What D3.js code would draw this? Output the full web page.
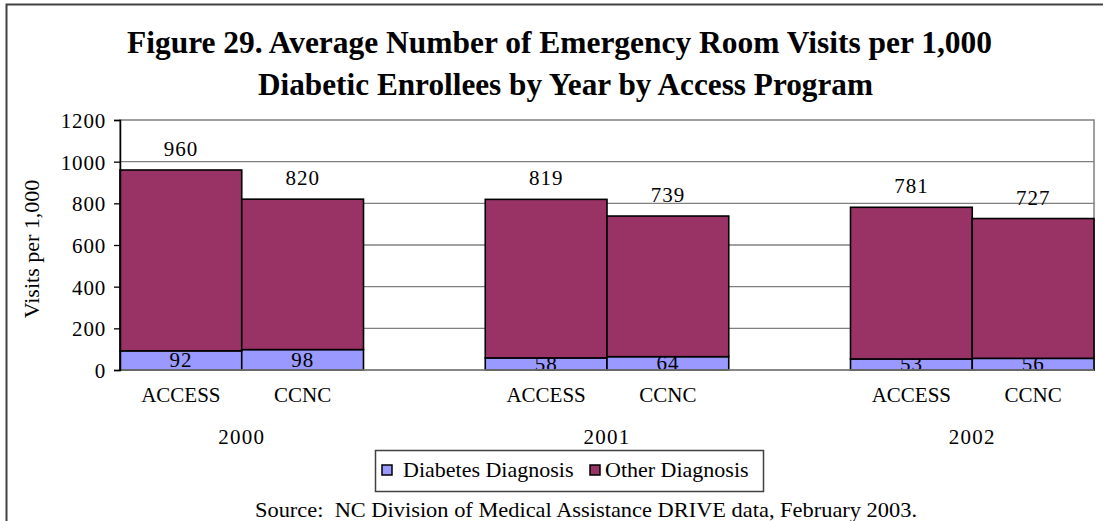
<!DOCTYPE html>
<html>
<head>
<meta charset="utf-8">
<script src="https://cdn.jsdelivr.net/npm/d3@7"></script>
<style>
  html, body { margin: 0; padding: 0; background: #fff; }
  svg { display: block; }
  svg text { font-family: "Liberation Serif", "Times New Roman", serif !important; fill: #000; }
</style>
</head>
<body>
<svg id="chart" width="1103" height="521"></svg>
<script>
// ---- data ----
const years = ["2000", "2001", "2002"];
const programs = ["ACCESS", "CCNC"];
const diabetesValues = [92, 98, 58, 64, 53, 56];     // Diabetes Diagnosis
const totalValues = [960, 820, 819, 739, 781, 727];   // total (label on top)
const yTickValues = [0, 200, 400, 600, 800, 1000, 1200];
const seriesNames = ["Diabetes Diagnosis", "Other Diagnosis"];
const titleLines = [
  "Figure 29. Average Number of Emergency Room Visits per 1,000",
  "Diabetic Enrollees by Year by Access Program"
];
const yAxisTitle = "Visits per 1,000";
const sourceText = "Source:  NC Division of Medical Assistance DRIVE data, February 2003.";

// ---- layout ----
const plot = { left: 120, right: 1094, top: 120, bottom: 370 };
const colors = { diabetes: "#9999FF", other: "#993366" };
const serif = "'Liberation Serif', 'Times New Roman', serif";

const svg = d3.select("#chart");

// outer chart border (right/bottom fall outside the window)
svg.append("rect")
  .attr("x", 6.5).attr("y", 4.5)
  .attr("width", 1200).attr("height", 600)
  .attr("fill", "none").attr("stroke", "#404040").attr("stroke-width", 2);

// rows: one per year x program
const rows = [];
years.forEach((yr, yi) => {
  programs.forEach((pg, pi) => {
    const i = yi * programs.length + pi;
    rows.push({
      year: yr, program: pg, slot: yi * 3 + pi,
      diabetes: diabetesValues[i],
      other: totalValues[i] - diabetesValues[i],
      total: totalValues[i]
    });
  });
});

// 8 slots: 2 bars per year, an empty slot between years
const x = d3.scaleBand()
  .domain(d3.range(years.length * 3 - 1))
  .range([plot.left, plot.right])
  .padding(0);

const y = d3.scaleLinear().domain([0, 1200]).range([plot.bottom, plot.top]);

// gridlines
svg.append("g").selectAll("line")
  .data(yTickValues.filter(v => v > 0 && v < 1200))
  .join("line")
  .attr("x1", plot.left).attr("x2", plot.right)
  .attr("y1", d => y(d)).attr("y2", d => y(d))
  .attr("stroke", "#808080").attr("stroke-width", 1.3);

// plot area border (gray)
svg.append("rect")
  .attr("x", plot.left).attr("y", plot.top)
  .attr("width", plot.right - plot.left).attr("height", plot.bottom - plot.top)
  .attr("fill", "none").attr("stroke", "#808080").attr("stroke-width", 1.5);

// stacked bars
const stack = d3.stack().keys(["diabetes", "other"]);
const stacked = stack(rows);

// diabetes segments
svg.append("g").selectAll("rect")
  .data(stacked[0])
  .join("rect")
  .attr("x", d => x(d.data.slot))
  .attr("width", x.bandwidth())
  .attr("y", d => y(d[1]))
  .attr("height", d => y(d[0]) - y(d[1]))
  .attr("fill", colors.diabetes)
  .attr("stroke", "#000").attr("stroke-width", 1.6);

// diabetes labels (drawn before other segments so they get partially covered)
svg.append("g").selectAll("text")
  .data(stacked[0])
  .join("text")
  .attr("font-family", serif)
  .attr("x", d => x(d.data.slot) + x.bandwidth() / 2)
  .attr("y", d => (y(d[0]) + y(d[1])) / 2 + 7)
  .attr("text-anchor", "middle")
  .attr("font-size", 21)
  .attr("letter-spacing", 1)
  .text(d => d.data.diabetes);

// other segments
svg.append("g").selectAll("rect")
  .data(stacked[1])
  .join("rect")
  .attr("x", d => x(d.data.slot))
  .attr("width", x.bandwidth())
  .attr("y", d => y(d[1]))
  .attr("height", d => y(d[0]) - y(d[1]))
  .attr("fill", colors.other)
  .attr("stroke", "#000").attr("stroke-width", 1.6);

// total labels
svg.append("g").selectAll("text")
  .data(rows)
  .join("text")
  .attr("font-family", serif)
  .attr("x", d => x(d.slot) + x.bandwidth() / 2)
  .attr("y", d => y(d.total) - 14)
  .attr("text-anchor", "middle")
  .attr("font-size", 21)
  .attr("letter-spacing", 1)
  .text(d => d.total);

// x axis line
svg.append("line")
  .attr("x1", plot.left).attr("x2", plot.right)
  .attr("y1", plot.bottom).attr("y2", plot.bottom)
  .attr("stroke", "#808080").attr("stroke-width", 1.5);

// y axis
const yAxis = d3.axisLeft(y).tickValues(yTickValues).tickFormat(d3.format("d"))
  .tickSize(6).tickPadding(12);
const yg = svg.append("g").attr("transform", `translate(${plot.left},0)`).call(yAxis);
yg.attr("font-family", serif);
yg.select(".domain").attr("stroke", "#000").attr("stroke-width", 1.5);
yg.selectAll(".tick line").attr("stroke", "#000").attr("stroke-width", 1.3);
yg.selectAll(".tick text")
  .attr("font-family", serif)
  .attr("font-size", 21).attr("letter-spacing", 0.8).attr("fill", "#000")
  .attr("dy", "0.35em").attr("dx", 4);

// category labels
svg.append("g").selectAll("text")
  .data(rows)
  .join("text")
  .attr("font-family", serif)
  .attr("x", d => x(d.slot) + x.bandwidth() / 2)
  .attr("y", 402)
  .attr("text-anchor", "middle")
  .attr("font-size", 21)
  .text(d => d.program);

// year labels centered under each pair
svg.append("g").selectAll("text")
  .data(years)
  .join("text")
  .attr("font-family", serif)
  .attr("x", (d, i) => x(i * 3) + x.bandwidth())
  .attr("y", 444)
  .attr("text-anchor", "middle")
  .attr("font-size", 21)
  .attr("letter-spacing", 1.2)
  .text(d => d);

// y axis title
svg.append("text")
  .attr("font-family", serif)
  .attr("transform", "translate(39,249) rotate(-90)")
  .attr("text-anchor", "middle")
  .attr("font-size", 22)
  .text(yAxisTitle);

// title
const titleX = [127, 258];
const titleLen = [865, 615];
const titleY = [53, 95];
titleLines.forEach((t, i) => {
  svg.append("text")
    .attr("font-family", serif)
    .attr("x", titleX[i]).attr("y", titleY[i])
    .attr("font-size", 31).attr("font-weight", "bold")
    .attr("textLength", titleLen[i]).attr("lengthAdjust", "spacingAndGlyphs")
    .text(t);
});

// legend
const lg = svg.append("g");
lg.append("rect")
  .attr("x", 375.5).attr("y", 450.5).attr("width", 388).attr("height", 41)
  .attr("fill", "#fff").attr("stroke", "#404040").attr("stroke-width", 1.5);
const legendItems = [
  { name: seriesNames[0], color: colors.diabetes, sx: 382, tx: 403 },
  { name: seriesNames[1], color: colors.other, sx: 590, tx: 605 }
];
legendItems.forEach(it => {
  lg.append("rect")
    .attr("x", it.sx).attr("y", 465).attr("width", 10).attr("height", 10)
    .attr("fill", it.color).attr("stroke", "#000").attr("stroke-width", 1.5);
  lg.append("text")
    .attr("font-family", serif)
    .attr("x", it.tx).attr("y", 477)
    .attr("font-size", 22)
    .text(it.name);
});

// source (keep the double space)
svg.append("text")
  .attr("font-family", serif)
  .attr("x", 255).attr("y", 517)
  .attr("font-size", 21)
  .attr("xml:space", "preserve")
  .style("white-space", "pre")
  .attr("textLength", 662).attr("lengthAdjust", "spacingAndGlyphs")
  .text(sourceText);
</script>
</body>
</html>
